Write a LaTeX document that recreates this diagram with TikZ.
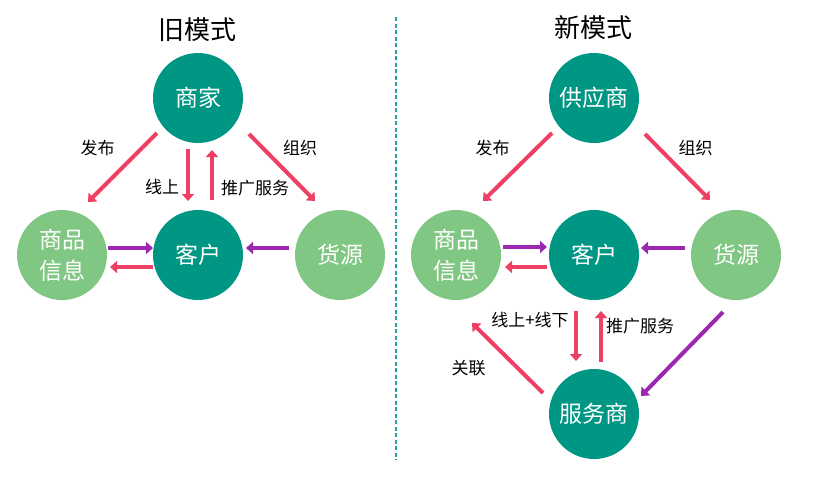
\documentclass[tikz,border=0pt]{standalone}
\usepackage{fontspec}
\setmainfont{Noto Sans CJK SC}
\usetikzlibrary{arrows.meta}
\definecolor{tealdark}{RGB}{0,150,132}
\definecolor{greenlight}{RGB}{129,199,132}
\definecolor{arrred}{RGB}{238,64,100}
\definecolor{arrpurple}{RGB}{156,39,176}
\definecolor{septeal}{RGB}{38,166,154}

\begin{document}
\begin{tikzpicture}[x=1pt, y=-1pt,
        dark/.style = {circle, fill=tealdark, draw=none, minimum size=90pt, inner sep=0pt,
                       text=white, font=\fontsize{23}{31}\selectfont, align=center},
        light/.style = {dark, fill=greenlight},
        redarr/.style = {draw=arrred, line width=4pt, -{Triangle[width=12pt,length=7pt]}},
        purparr/.style = {redarr, draw=arrpurple, -{Triangle[width=12pt,length=7pt]}},
        lbl/.style = {font=\fontsize{17}{20}\selectfont, text=black, inner sep=0pt},
        ttl/.style = {font=\fontsize{26}{30}\selectfont, text=black}]
    \useasboundingbox (0,0) rectangle (820,483);

    % old mode
    \node[ttl] (ttlold) at (197,30) {旧模式};
    \node[dark] (shang) at (198,98) {商家};
    \node[dark] (kehu) [below of=shang, node distance=157pt] {客户};
    \node[light] (info) [left of=kehu, node distance=136pt] {商品\\信息};
    \node[light] (huo) [right of=kehu, node distance=142pt] {货源};

    \draw[redarr] ([shift={(-41,35)}]shang.center) to node[lbl, midway, shift={(-25,-19)}] {发布} ([shift={(26,-53)}]info.center);
    \draw[redarr] ([shift={(51,36)}]shang.center) to node[lbl, midway, shift={(18,-19)}] {组织} ([shift={(-25,-54)}]huo.center);
    \draw[redarr] ([shift={(-10,51)}]shang.center) to node[lbl, midway, shift={(-26,12)}] {线上} ([shift={(-10,-54)}]kehu.center);
    \draw[redarr] ([shift={(14,-55)}]kehu.center) to node[lbl, midway, shift={(43,13)}] {推广服务} ([shift={(14,52)}]shang.center);
    \draw[purparr] ([shift={(46,-7)}]info.center) to ([shift={(-45,-7)}]kehu.center);
    \draw[redarr] ([shift={(-45,12)}]kehu.center) to ([shift={(48,12)}]info.center);
    \draw[purparr] ([shift={(-51,-7)}]huo.center) to ([shift={(48,-7)}]kehu.center);

    % separator
    \coordinate (septop) at (396,17);
    \coordinate (sepbot) at (396,460);
    \draw[septeal, line width=2pt, dash pattern=on 4pt off 2.5pt] (septop) -- (sepbot);

    % new mode
    \node[ttl] (ttlnew) at (593,28) {新模式};
    \node[dark] (gys) at (594,98) {供应商};
    \node[dark] (kehunew) [below of=gys, node distance=157pt] {客户};
    \node[light] (infonew) [left of=kehunew, node distance=138pt] {商品\\信息};
    \node[light] (huonew) [right of=kehunew, node distance=142pt] {货源};
    \node[dark] (fws) [below of=kehunew, node distance=159pt] {服务商};

    \draw[redarr] ([shift={(-42,35)}]gys.center) to node[lbl, midway, shift={(-25,-19)}] {发布} ([shift={(27,-54)}]infonew.center);
    \draw[redarr] ([shift={(51,36)}]gys.center) to node[lbl, midway, shift={(18,-19)}] {组织} ([shift={(-26,-55)}]huonew.center);
    \draw[purparr] ([shift={(47,-8)}]infonew.center) to ([shift={(-47,-8)}]kehunew.center);
    \draw[redarr] ([shift={(-47,12)}]kehunew.center) to ([shift={(49,12)}]infonew.center);
    \draw[purparr] ([shift={(-51,-7)}]huonew.center) to ([shift={(47,-7)}]kehunew.center);
    \draw[redarr] ([shift={(-18,56)}]kehunew.center) to node[lbl, midway, shift={(-46,-16)}] {线上+线下} ([shift={(-18,-53)}]fws.center);
    \draw[redarr] ([shift={(7,-52)}]fws.center) to node[lbl, midway, shift={(39,-10)}] {推广服务} ([shift={(7,56)}]kehunew.center);
    \draw[redarr] ([shift={(-51,-21)}]fws.center) to node[lbl, midway, shift={(-39,10)}] {关联} ([shift={(16,68)}]infonew.center);
    \draw[purparr] ([shift={(-13,57)}]huonew.center) to ([shift={(47,-18)}]fws.center);
\end{tikzpicture}
\end{document}
